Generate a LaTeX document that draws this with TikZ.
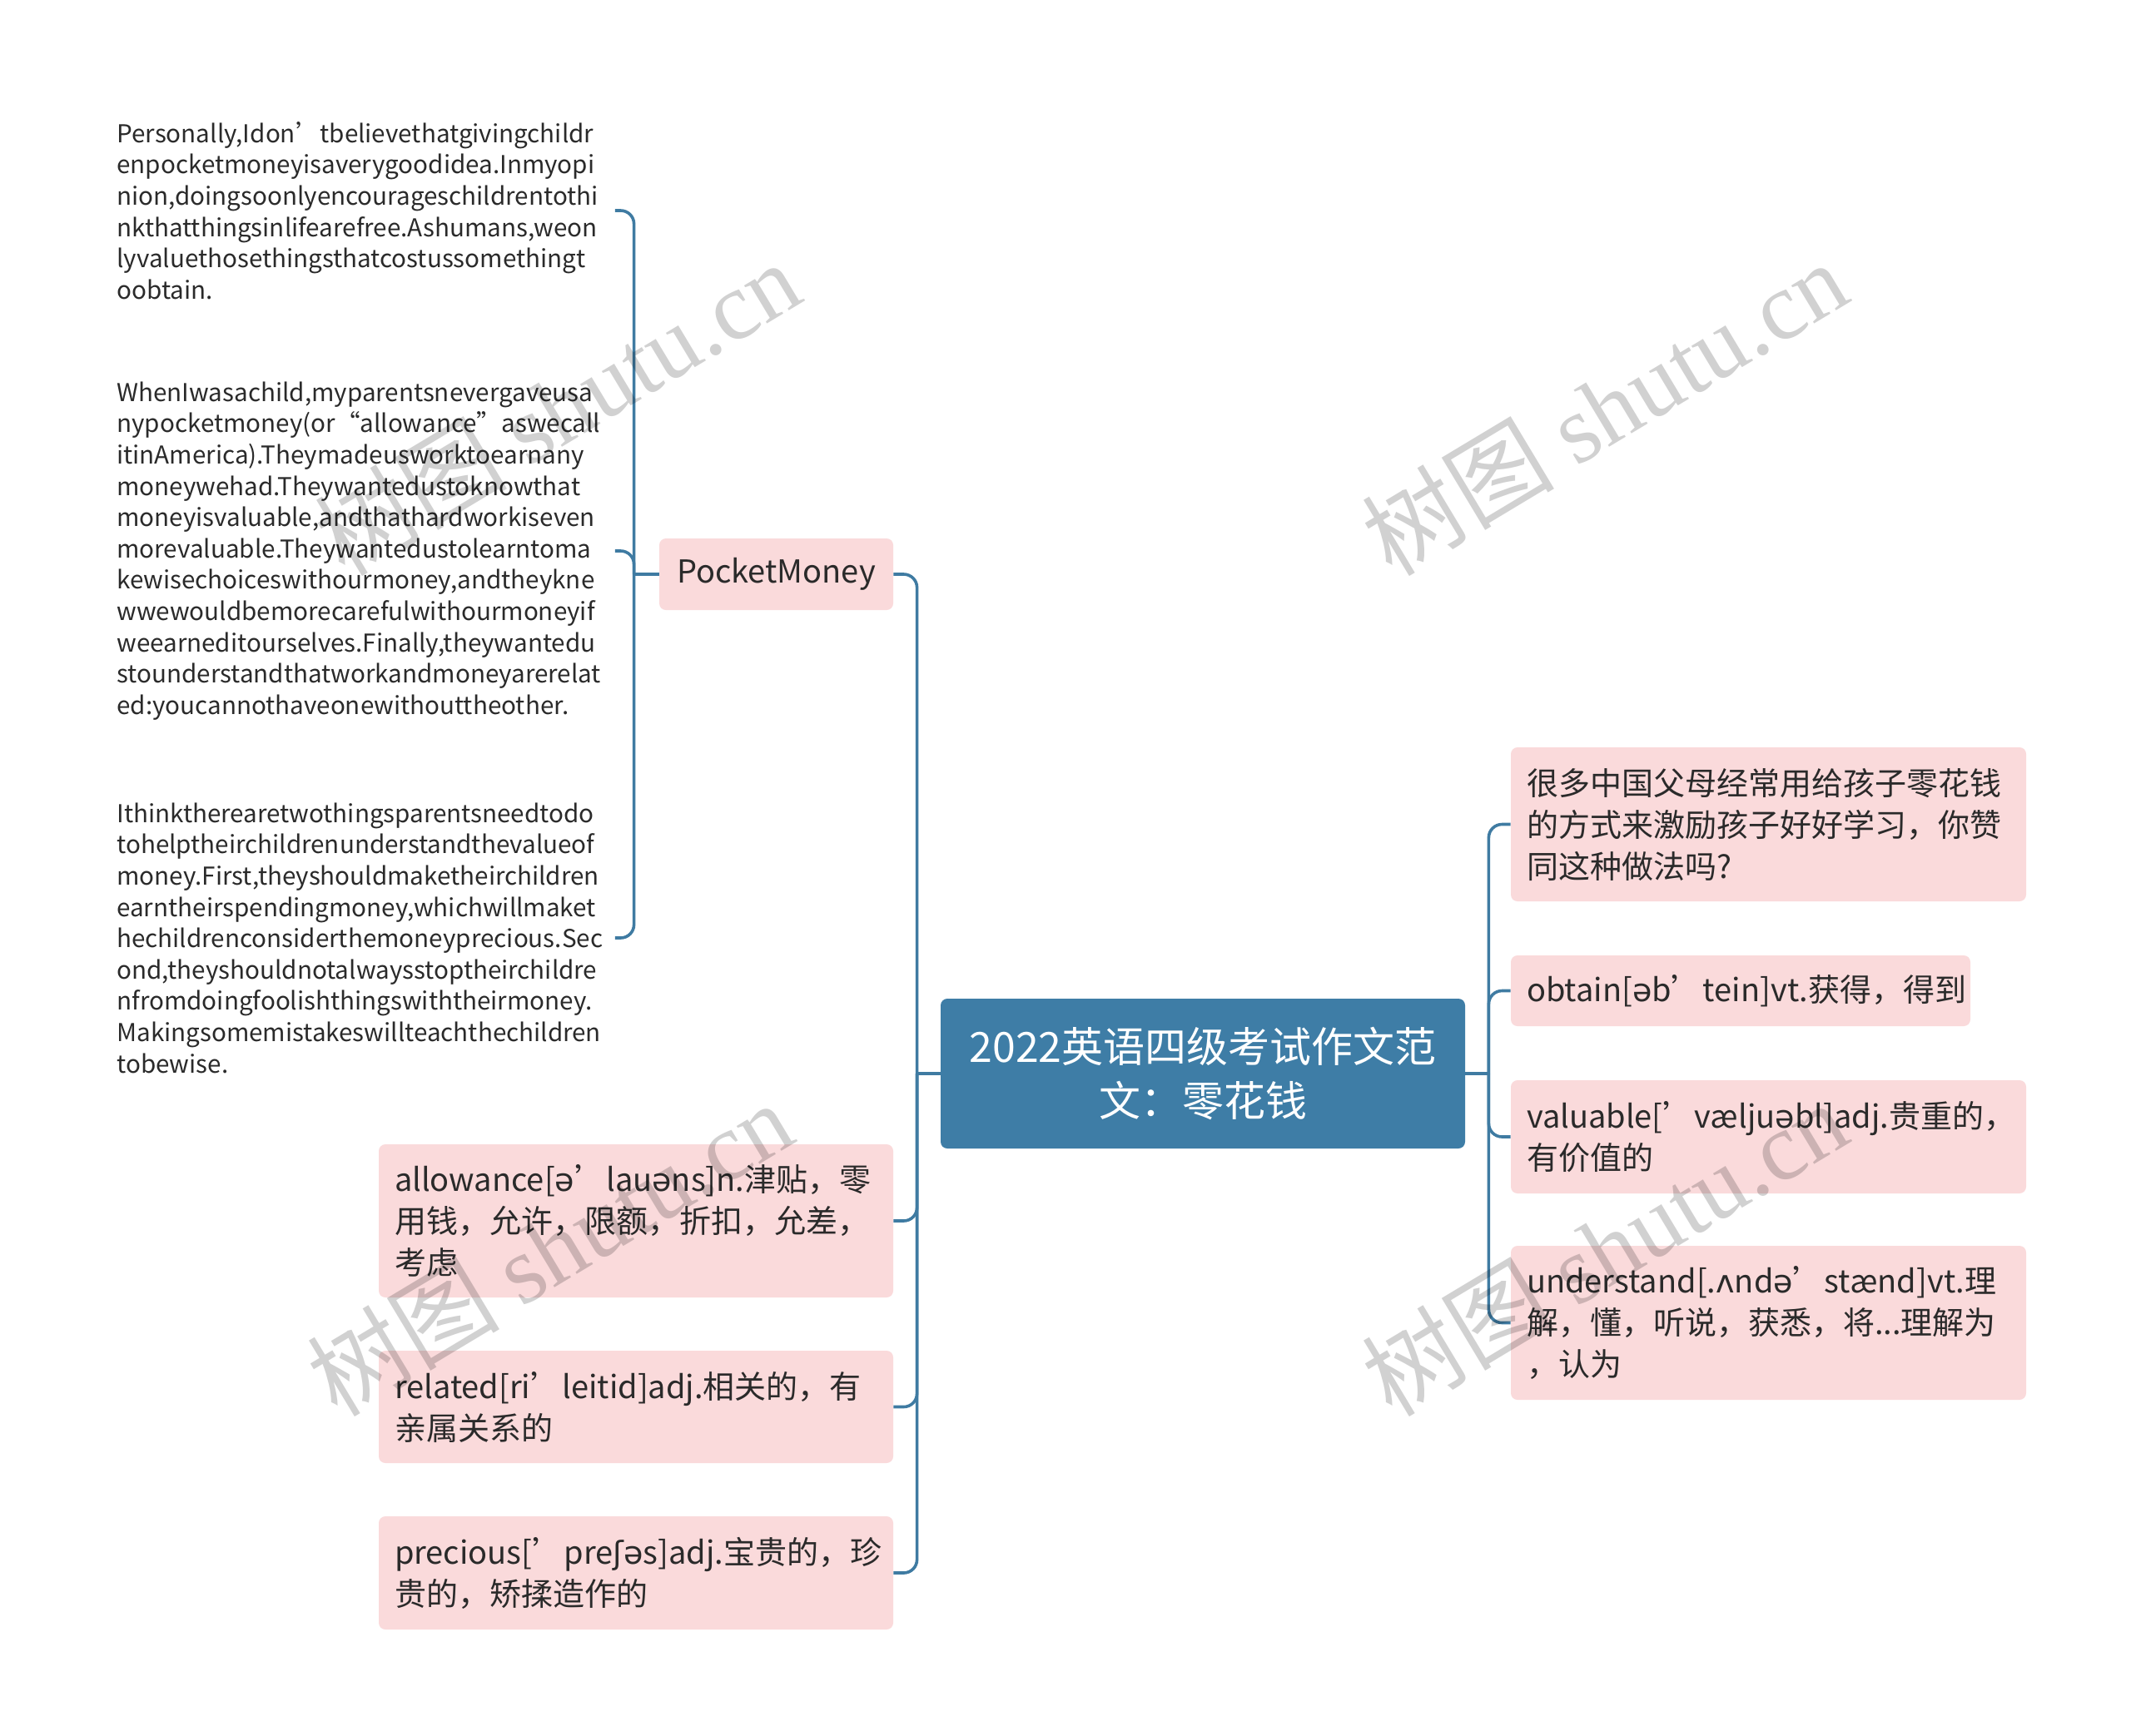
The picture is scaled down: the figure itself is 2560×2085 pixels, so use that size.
\documentclass[tikz,border=0pt]{standalone}
\usepackage{fontspec}
\setmainfont{Noto Sans CJK SC}
\newfontfamily\ipafont{DejaVu Sans}
\newfontfamily\wmfont{Liberation Serif}
\newcommand\ipa[1]{{\ipafont #1}}
\usetikzlibrary{positioning}
\definecolor{rootblue}{HTML}{3E7DA6}
\definecolor{linkblue}{HTML}{3F7BA2}
\definecolor{boxpink}{HTML}{FADADB}
\definecolor{inkgray}{HTML}{2A2A2A}
\hyphenpenalty=10000
\exhyphenpenalty=10000
\tikzset{
  link/.style={draw=linkblue, line width=1.8pt, rounded corners=8pt},
  topic/.style={fill=rootblue, text=white, rounded corners=4pt, align=center,
    minimum width=315pt, minimum height=90pt, font=\fontsize{25}{32.7}\selectfont},
  word/.style={fill=boxpink, text=inkgray, rounded corners=4pt, align=left,
    inner xsep=9.5pt, text width=#1, font=\fontsize{19}{25}\selectfont},
  essay/.style={text=inkgray, align=left, inner sep=0pt, anchor=west,
    text width=299pt, font=\fontsize{14.8}{18.8}\selectfont},
  wm/.style={text=black, opacity=0.18, rotate=31, font=\fontsize{58}{58}\selectfont}
}
\begin{document}
\begin{tikzpicture}[x=0.5pt,y=-0.5pt]
\fill[white] (0,0) rectangle (2560,2085);
\useasboundingbox (0,0) rectangle (2560,2085);

% centre topic
\node[topic] (root) at (1445,1290) {2022英语四级考试作文范\\文：零花钱};

% left branch
\node[word=121.5pt, align=center, minimum height=43pt] (pm) at (932.5,690) {PocketMoney};
\node[word=290pt, minimum height=92pt] (allow) at (764,1467)
  {allowance[\ipa{ə}’lau\ipa{ə}ns]n.津贴，零\\用钱，允许，限额，折扣，允差，\\考虑};
\node[word=290pt, minimum height=67.5pt] (rel) at (764,1690.5)
  {related[ri’leitid]adj.相关的，有\\亲属关系的};
\node[word=290pt, minimum height=68pt] (prec) at (764,1890)
  {precious[’pre\ipa{ʃ}\ipa{ə}s]adj.宝贵的，珍\\贵的，矫揉造作的};

% essay paragraphs
\node[essay] (p1) at (140,253) {Personally,Idon’tbelievethatgivingchildr\\
enpocketmoneyisaverygoodidea.Inmyopi\\
nion,doingsoonlyencourageschildrentothi\\
nkthatthingsinlifearefree.Ashumans,weon\\
lyvaluethosethingsthatcostussomethingt\\
oobtain.};
\node[essay] (p2) at (140,662) {WhenIwasachild,myparentsnevergaveusa\\
nypocketmoney(or“allowance”aswecall\\
itinAmerica).Theymadeusworktoearnany\\
moneywehad.Theywantedustoknowthat\\
moneyisvaluable,andthathardworkiseven\\
morevaluable.Theywantedustolearntoma\\
kewisechoiceswithourmoney,andtheykne\\
wwewouldbemorecarefulwithourmoneyif\\
weearneditourselves.Finally,theywantedu\\
stounderstandthatworkandmoneyarerelat\\
ed:youcannothaveonewithouttheother.};
\node[essay] (p3) at (140,1127) {Ithinktherearetwothingsparentsneedtodo\\
tohelptheirchildrenunderstandthevalueof\\
money.First,theyshouldmaketheirchildren\\
earntheirspendingmoney,whichwillmaket\\
hechildrenconsiderthemoneyprecious.Sec\\
ond,theyshouldnotalwaysstoptheirchildre\\
nfromdoingfoolishthingswiththeirmoney.\\
Makingsomemistakeswillteachthechildren\\
tobewise.};

% right branch
\node[word=290.5pt, minimum height=92.5pt] (q) at (2124.5,990.5)
  {很多中国父母经常用给孩子零花钱\\的方式来激励孩子好好学习，你赞\\同这种做法吗?};
\node[word=257pt, minimum height=42.5pt] (obt) at (2091,1190.5)
  {obtain[\ipa{ə}b’tein]vt.获得，得到};
\node[word=290.5pt, minimum height=68pt] (val) at (2124.5,1366)
  {valuable[’vælju\ipa{ə}bl]adj.贵重的，\\有价值的};
\node[word=290.5pt, minimum height=92.5pt] (und) at (2124.5,1589.5)
  {understand[.\ipa{ʌ}nd\ipa{ə}’stænd]vt.理\\解，懂，听说，获悉，将...理解为\\，认为};

% connectors
\coordinate (lj) at ([xshift=-14pt]root.west);
\coordinate (rj) at ([xshift=14pt]root.east);
\coordinate (pj) at ([xshift=-15pt]pm.west);
\draw[link] (root.west) -- (lj);
\draw[link] (root.east) -- (rj);
\draw[link] (pm.west) -- (pj);
\foreach \n in {pm,allow,rel,prec} \draw[link] (lj) |- (\n.east);
\foreach \n in {q,obt,val,und} \draw[link] (rj) |- (\n.west);
\foreach \n in {p1,p2,p3} \draw[link] (pj) |- (\n.east);

% watermarks
\node[wm] (wm1) at (669,490) {树图 {\wmfont shutu.cn}};
\node[wm] (wm2) at (1927,490) {树图 {\wmfont shutu.cn}};
\node[wm] (wm3) at (660,1500) {树图 {\wmfont shutu.cn}};
\node[wm] (wm4) at (1927,1500) {树图 {\wmfont shutu.cn}};
\end{tikzpicture}
\end{document}
